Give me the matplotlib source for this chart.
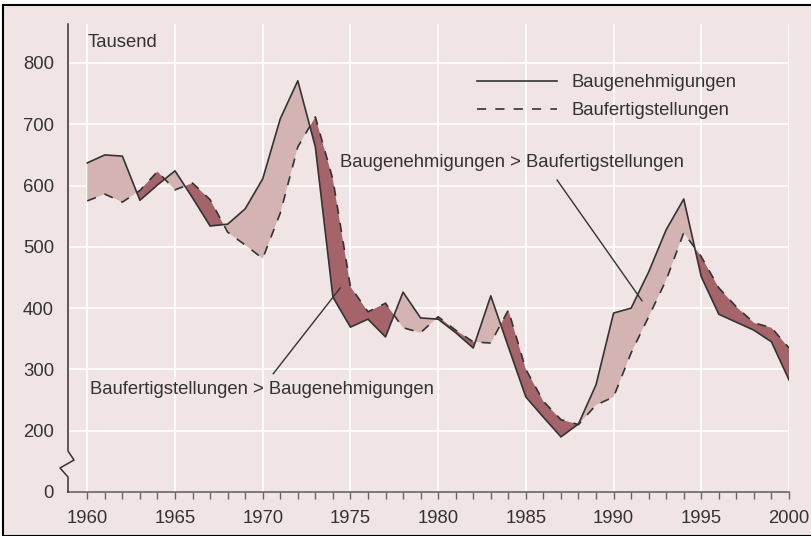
import numpy as np
import matplotlib
matplotlib.use("Agg")
import matplotlib.pyplot as plt
from matplotlib.patches import Rectangle

plt.rcParams['font.family'] = ['Liberation Sans', 'DejaVu Sans']

years = list(range(1960, 2001))
# Tausend Wohnungen
genehmigungen = [637, 650, 648, 576, 601, 624, 580, 534, 537, 562,
                 611, 709, 771, 663, 418, 369, 382, 353, 426, 384,
                 382, 360, 335, 420, 337, 255, 222, 190, 211, 275,
                 392, 400, 459, 528, 578, 451, 390, 377, 364, 345,
                 283]
fertigstellungen = [575, 586, 573, 592, 623, 593, 604, 577, 524, 503,
                    481, 555, 663, 712, 610, 435, 394, 408, 368, 360,
                    386, 364, 345, 343, 397, 300, 248, 218, 210, 242,
                    255, 327, 386, 446, 523, 484, 433, 402, 376, 368,
                    335]

y_ticks = [100, 200, 300, 400, 500, 600, 700, 800]
y_labels = ["0", "200", "300", "400", "500", "600", "700", "800"]
x_ticks = [1960, 1965, 1970, 1975, 1980, 1985, 1990, 1995, 2000]

bg = "#f0e5e4"
light = "#d4b4b2"
dark = "#a5636a"
ink = "#333333"
fs = 13.3

W, H = 812, 536
fig = plt.figure(figsize=(W / 100, H / 100), dpi=100, facecolor="white")
fig.patches.append(Rectangle((3 / W, 0), 1, (H - 5) / H, transform=fig.transFigure,
                             facecolor=bg, edgecolor="black", lw=1.5, zorder=-10))

ax = fig.add_axes([68 / W, (H - 492) / H, 721 / W, 468 / H])
ax.set_facecolor(bg)

x = np.array(years)
g = np.array(genehmigungen)
f = np.array(fertigstellungen)

ax.fill_between(x, g, f, where=g >= f, interpolate=True, color=light, lw=0, zorder=2)
ax.fill_between(x, g, f, where=g <= f, interpolate=True, color=dark, lw=0, zorder=2)
ax.plot(x, g, color=ink, lw=1.2, zorder=3, label="Baugenehmigungen")
ax.plot(x, f, color=ink, lw=1.2, ls=(0, (5.5, 5.5)), zorder=3, label="Baufertigstellungen")

ax.set_xlim(1958.9, 2000)
ax.set_ylim(100, 863.6)

ax.set_xticks(x_ticks)
ax.set_xticks(years, minor=True)
ax.set_yticks(y_ticks)
ax.set_yticklabels(y_labels)
ax.tick_params(axis="x", which="both", direction="out", length=5, width=1,
               color="#666666", labelsize=fs, labelcolor=ink, pad=8)
ax.tick_params(axis="y", length=0, labelsize=fs, labelcolor=ink, pad=10)

ax.grid(True, which="major", color="white", lw=1.2, zorder=0)
ax.set_axisbelow(True)

for s in ["top", "right", "left"]:
    ax.spines[s].set_visible(False)
ax.spines["bottom"].set_color("#666666")
ax.spines["bottom"].set_linewidth(1.2)

# left axis with break
px = 1 / 721
py = 1 / 468
ax.plot([0, 0, 6 * px, -8 * px, 0, 0],
        [1, 41 * py, 32 * py, 24 * py, 15 * py, 0],
        transform=ax.transAxes, color=ink, lw=1.1, clip_on=False, zorder=4)

ax.text(1960, 834, "Tausend", fontsize=fs, color=ink, va="center", ha="left")

ax.text(1974.4, 638, "Baugenehmigungen > Baufertigstellungen", fontsize=fs,
        color=ink, va="center", ha="left")
ax.plot([1986.78, 1991.62], [609, 412], color=ink, lw=1, zorder=4)

ax.text(1960.15, 267, "Baufertigstellungen > Baugenehmigungen", fontsize=fs,
        color=ink, va="center", ha="left")
ax.plot([1970.6, 1974.42], [293, 433], color=ink, lw=1, zorder=4)

leg = ax.legend(loc="upper left", bbox_to_anchor=(0.554, 0.912), frameon=False,
                borderpad=0, handlelength=4.33, handletextpad=0.8, labelspacing=0.58,
                fontsize=fs, labelcolor=ink)

plt.savefig("out.png", dpi=100, facecolor=fig.get_facecolor())
